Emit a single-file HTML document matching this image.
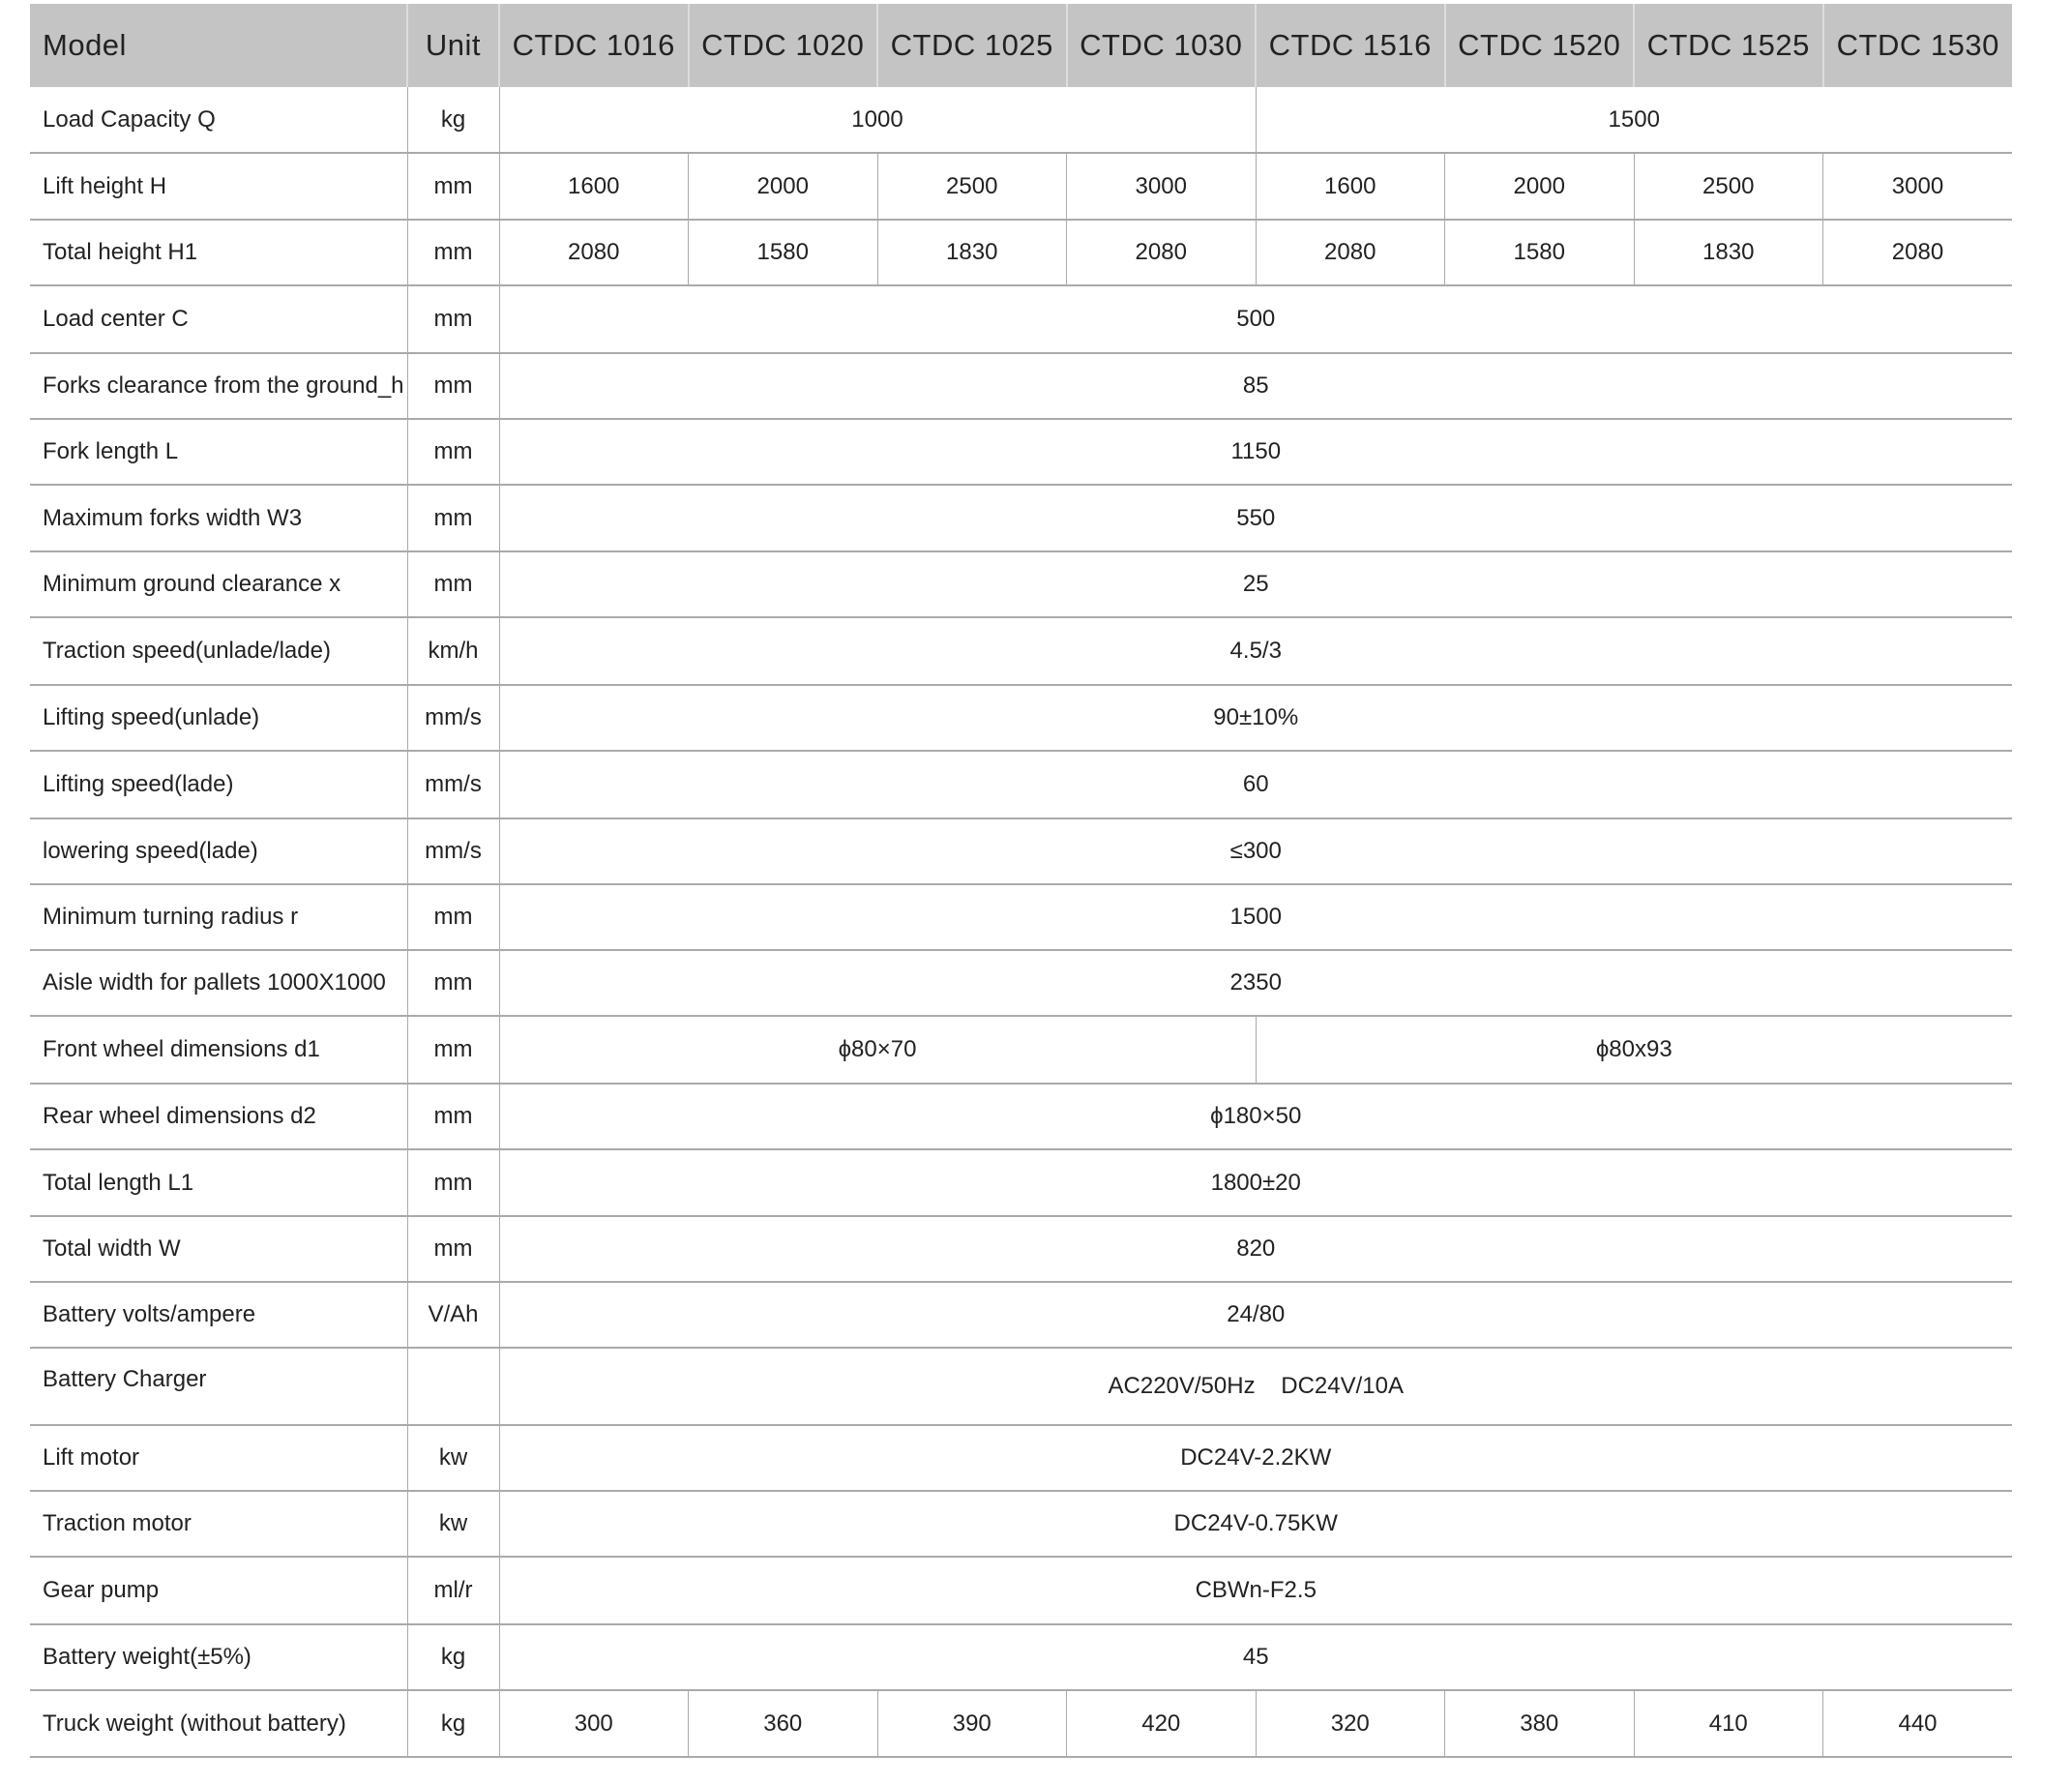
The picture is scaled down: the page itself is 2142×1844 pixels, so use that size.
<!DOCTYPE html>
<html><head><meta charset="utf-8"><style>
html,body{margin:0;padding:0;background:#fff;width:2142px;height:1844px;overflow:hidden}
table{position:absolute;left:31px;top:4px;border-collapse:collapse;table-layout:fixed;width:2049px;font-family:"Liberation Sans",sans-serif;color:#222}
td{border-bottom:2px solid #aaa;border-left:1.5px solid #aaa;text-align:center;font-size:24px;padding:0;white-space:nowrap;overflow:hidden}
td:first-child{border-left:none;text-align:left;padding-left:13px}
tr.h td{background:#c4c4c4;font-size:31px;border-left:2px solid #ddd;border-bottom:none;letter-spacing:0.5px}
tr.h td:first-child{border-left:none}
</style></head><body>
<table>
<colgroup><col style="width:390px"><col style="width:95px"><col span="8" style="width:195.5px"></colgroup>
<tr class="h" style="height:86px"><td>Model</td><td>Unit</td><td>CTDC 1016</td><td>CTDC 1020</td><td>CTDC 1025</td><td>CTDC 1030</td><td>CTDC 1516</td><td>CTDC 1520</td><td>CTDC 1525</td><td>CTDC 1530</td></tr>
<tr style="height:68px"><td>Load Capacity Q</td><td>kg</td><td colspan="4">1000</td><td colspan="4">1500</td></tr>
<tr style="height:69px"><td>Lift height H</td><td>mm</td><td>1600</td><td>2000</td><td>2500</td><td>3000</td><td>1600</td><td>2000</td><td>2500</td><td>3000</td></tr>
<tr style="height:68px"><td>Total height H1</td><td>mm</td><td>2080</td><td>1580</td><td>1830</td><td>2080</td><td>2080</td><td>1580</td><td>1830</td><td>2080</td></tr>
<tr style="height:70px"><td>Load center C</td><td>mm</td><td colspan="8">500</td></tr>
<tr style="height:68px"><td>Forks clearance from the ground_h</td><td>mm</td><td colspan="8">85</td></tr>
<tr style="height:68px"><td>Fork length L</td><td>mm</td><td colspan="8">1150</td></tr>
<tr style="height:69px"><td>Maximum forks width W3</td><td>mm</td><td colspan="8">550</td></tr>
<tr style="height:68px"><td>Minimum ground clearance x</td><td>mm</td><td colspan="8">25</td></tr>
<tr style="height:70px"><td>Traction speed(unlade/lade)</td><td>km/h</td><td colspan="8">4.5/3</td></tr>
<tr style="height:68px"><td>Lifting speed(unlade)</td><td>mm/s</td><td colspan="8">90±10%</td></tr>
<tr style="height:70px"><td>Lifting speed(lade)</td><td>mm/s</td><td colspan="8">60</td></tr>
<tr style="height:68px"><td>lowering speed(lade)</td><td>mm/s</td><td colspan="8">≤300</td></tr>
<tr style="height:68px"><td>Minimum turning radius r</td><td>mm</td><td colspan="8">1500</td></tr>
<tr style="height:68px"><td>Aisle width for pallets 1000X1000</td><td>mm</td><td colspan="8">2350</td></tr>
<tr style="height:70px"><td>Front wheel dimensions d1</td><td>mm</td><td colspan="4">ϕ80×70</td><td colspan="4">ϕ80x93</td></tr>
<tr style="height:68px"><td>Rear wheel dimensions d2</td><td>mm</td><td colspan="8">ϕ180×50</td></tr>
<tr style="height:69px"><td>Total length L1</td><td>mm</td><td colspan="8">1800±20</td></tr>
<tr style="height:68px"><td>Total width W</td><td>mm</td><td colspan="8">820</td></tr>
<tr style="height:68px"><td>Battery volts/ampere</td><td>V/Ah</td><td colspan="8">24/80</td></tr>
<tr style="height:80px"><td style="vertical-align:top;padding-top:18px">Battery Charger</td><td></td><td colspan="8">AC220V/50Hz&nbsp;&nbsp;&nbsp;&nbsp;DC24V/10A</td></tr>
<tr style="height:68px"><td>Lift motor</td><td>kw</td><td colspan="8">DC24V-2.2KW</td></tr>
<tr style="height:68px"><td>Traction motor</td><td>kw</td><td colspan="8">DC24V-0.75KW</td></tr>
<tr style="height:70px"><td>Gear pump</td><td>ml/r</td><td colspan="8">CBWn-F2.5</td></tr>
<tr style="height:68px"><td>Battery weight(±5%)</td><td>kg</td><td colspan="8">45</td></tr>
<tr style="height:69px"><td>Truck weight (without battery)</td><td>kg</td><td>300</td><td>360</td><td>390</td><td>420</td><td>320</td><td>380</td><td>410</td><td>440</td></tr>
</table>
</body></html>
